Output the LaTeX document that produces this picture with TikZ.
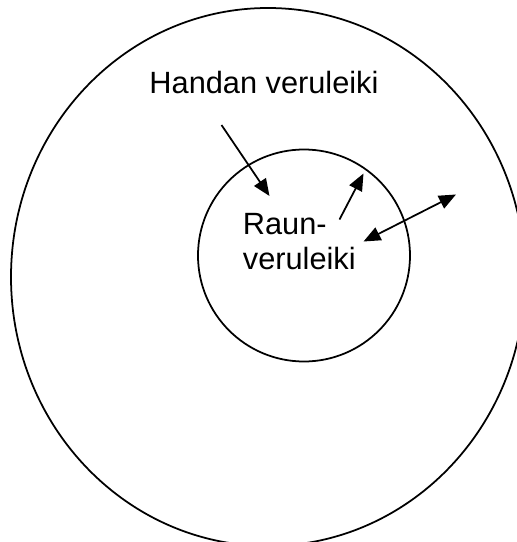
\documentclass[tikz,border=0pt]{standalone}
\usepackage{fontspec}
\setmainfont{Liberation Sans}
\usetikzlibrary{arrows.meta}

\begin{document}
\begin{tikzpicture}[line width=1pt]
\tikzstyle{txt}=[font=\fontsize{17.5}{20.1}\selectfont,inner sep=0pt]
\tikzstyle{pointer}=[draw,-{Triangle[length=0.34cm,width=0.28cm]}]
\tikzstyle{twoway}=[draw,{Triangle[length=0.34cm,width=0.28cm]}-{Triangle[length=0.34cm,width=0.28cm]}]
    \useasboundingbox (0,0) rectangle (10.32,10.84);
    \draw (5.36,5.30) ellipse (5.14 and 5.38);
    \draw (6.08,5.73) circle (2.12);
    \node[txt,anchor=base] (hand) at (5.28,8.97) {Handan veruleiki};
    \node[txt,anchor=base west,align=left] (raun) at (4.84,5.45) {Raun-\\veruleiki};
    \coordinate (1) at (4.43,8.34);
    \coordinate (2) at (5.39,6.92);
    \coordinate (3) at (6.79,6.45);
    \coordinate (4) at (7.27,7.37);
    \coordinate (5) at (7.27,6.01);
    \coordinate (6) at (9.12,6.95);
    \path (1) edge [pointer] (2);
    \path (3) edge [pointer] (4);
    \path (5) edge [twoway] (6);
\end{tikzpicture}
\end{document}
